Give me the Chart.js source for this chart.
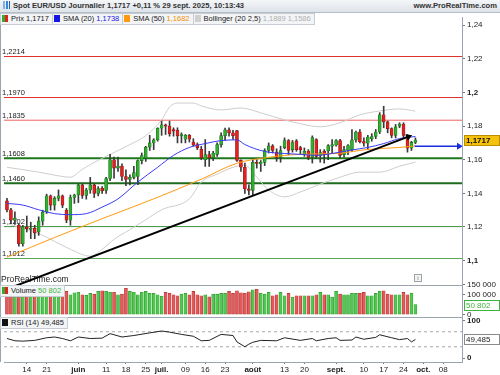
<!DOCTYPE html>
<html lang="fr">
<head>
<meta charset="utf-8">
<title>Spot EUR/USD Journalier</title>
<script src="https://cdn.jsdelivr.net/npm/chart.js@4.4.1/dist/chart.umd.min.js"></script>
<style>
  html, body { margin: 0; padding: 0; }
  body { width: 500px; height: 375px; overflow: hidden; position: relative; background: #fff;
         font-family: "Liberation Sans", Arial, sans-serif; color: #222; }
  #hdr { position: absolute; left: 0; top: 0; width: 500px; height: 12px; line-height: 12px;
         background: linear-gradient(#f4f6f8, #dde3e9); border-bottom: 1px solid #b5bec7;
         font-size: 7.6px; font-weight: bold; color: #333; white-space: nowrap; z-index: 3; }
  #hdr .ico { display: inline-block; width: 7px; height: 8px; margin: 0 3px 0 3px; vertical-align: -1px;
         background: linear-gradient(90deg, #7ab4e8 0 2px, transparent 2px 3px, #3d86d4 3px 5px, transparent 5px 6px, #1f63b8 6px 7px); }
  #hdr .site { position: absolute; right: 3px; top: 0; }
  #leg, .pane { position: absolute; left: 0; height: 12px; white-space: nowrap; font-size: 7.5px; z-index: 2; }
  #leg { top: 13px; }
  .box { display: inline-block; height: 10px; line-height: 10px; padding: 0 3px 0 1px; background: #f2f4f6;
         border: 1px solid #c6ccd2; margin-right: -1px; vertical-align: top; color: #222; }
  .sw { display: inline-block; width: 6px; height: 7px; margin-right: 3px; vertical-align: -1px; }
  #info { position: absolute; left: 414px; top: 274px; width: 6px; height: 6px; border: 1px solid #9aa3ab;
          font-size: 6px; line-height: 6px; text-align: center; color: #666; background: #f4f4f4; }
  canvas { position: absolute; left: 0; top: 13px; }
</style>
</head>
<body>
<div id="hdr"><span class="ico"></span>Spot EUR/USD Journalier 1,1717 +0,11 % 29 sept. 2025, 10:13:43<span class="site">www.ProRealTime.com</span></div>
<div id="leg"><span class="box"><i class="sw" style="background:linear-gradient(90deg,#2fae2f 50%,#e02222 50%)"></i>Prix 1,1717</span><span class="box"><i class="sw" style="background:#1515e6"></i>SMA (20) <span style="color:#2020e0">1,1738</span></span><span class="box"><i class="sw" style="background:#ff9a10"></i>SMA (50) <span style="color:#f39000">1,1682</span></span><span class="box"><i class="sw" style="background:#cfcfcf"></i>Bollinger (20 2,5) <span style="color:#b0b0b0">1,1889 1,1586</span></span></div>
<div class="pane" style="top:285px"><span class="box"><i class="sw" style="background:linear-gradient(90deg,#2fae2f 50%,#e02222 50%)"></i>Volume <span style="color:#3cb43c">50 802</span></span></div>
<div class="pane" style="top:317px"><span class="box"><i class="sw" style="background:#111"></i>RSI (14) 49,485</span></div>
<div id="info">i</div>
<canvas id="c" width="500" height="362"></canvas>
<script>
// Bougies journalières du 7 mai au 29 sept. 2025 (index 0 = 7 mai)
const opens = [
  1.1355,1.1302,1.1240,1.1210,1.1100,1.1200,1.1185,1.1192,1.1170,1.1235,
  1.1290,1.1385,1.1330,1.1370,1.1385,1.1300,1.1240,1.1375,1.1390,1.1450,
  1.1388,1.1420,1.1450,1.1400,1.1430,1.1418,1.1488,1.1600,1.1550,1.1562,
  1.1500,1.1482,1.1495,1.1500,1.1595,1.1610,1.1675,1.1700,1.1718,1.1787,
  1.1808,1.1800,1.1780,1.1775,1.1742,1.1722,1.1745,1.1705,1.1690,1.1662,
  1.1600,1.1630,1.1612,1.1632,1.1690,1.1743,1.1778,1.1760,1.1773,1.1596,
  1.1555,1.1426,1.1418,1.1585,1.1575,1.1584,1.1655,1.1682,1.1645,1.1614,
  1.1672,1.1714,1.1660,1.1712,1.1672,1.1632,1.1652,1.1614,1.1720,1.1625,
  1.1650,1.1652,1.1680,1.1686,1.1714,1.1630,1.1655,1.1660,1.1718,1.1765,
  1.1708,1.1698,1.1725,1.1738,1.1765,1.1867,1.1825,1.1785,1.1745,1.1800,
  1.1812,1.1745,1.1668,1.1703
];
const highs = [
  1.1370,1.1310,1.1290,1.1220,1.1210,1.1265,1.1228,1.1210,1.1260,1.1300,
  1.1395,1.1390,1.1380,1.1420,1.1390,1.1310,1.1390,1.1395,1.1455,1.1455,
  1.1430,1.1495,1.1455,1.1440,1.1440,1.1495,1.1632,1.1615,1.1615,1.1575,
  1.1540,1.1510,1.1560,1.1600,1.1640,1.1680,1.1745,1.1725,1.1790,1.1830,
  1.1812,1.1830,1.1790,1.1790,1.1760,1.1750,1.1750,1.1725,1.1700,1.1680,
  1.1720,1.1650,1.1650,1.1700,1.1760,1.1788,1.1790,1.1775,1.1775,1.1600,
  1.1580,1.1450,1.1600,1.1600,1.1595,1.1665,1.1700,1.1690,1.1665,1.1680,
  1.1730,1.1720,1.1715,1.1720,1.1680,1.1670,1.1660,1.1742,1.1725,1.1660,
  1.1660,1.1690,1.1720,1.1720,1.1722,1.1680,1.1690,1.1780,1.1770,1.1780,
  1.1730,1.1745,1.1755,1.1780,1.1880,1.1918,1.1830,1.1790,1.1810,1.1820,
  1.1820,1.1750,1.1710,1.1730
];
const lows = [
  1.1290,1.1220,1.1215,1.1085,1.1085,1.1170,1.1130,1.1130,1.1150,1.1210,
  1.1280,1.1300,1.1300,1.1355,1.1315,1.1225,1.1210,1.1340,1.1345,1.1370,
  1.1365,1.1400,1.1375,1.1385,1.1400,1.1400,1.1475,1.1490,1.1530,1.1475,
  1.1445,1.1450,1.1485,1.1452,1.1575,1.1590,1.1655,1.1660,1.1710,1.1745,
  1.1750,1.1740,1.1740,1.1700,1.1700,1.1700,1.1705,1.1680,1.1660,1.1600,
  1.1560,1.1560,1.1595,1.1620,1.1675,1.1715,1.1740,1.1720,1.1590,1.1530,
  1.1400,1.1390,1.1390,1.1550,1.1530,1.1565,1.1640,1.1640,1.1590,1.1585,
  1.1665,1.1630,1.1645,1.1650,1.1630,1.1620,1.1600,1.1580,1.1610,1.1585,
  1.1580,1.1600,1.1640,1.1680,1.1610,1.1615,1.1630,1.1650,1.1705,1.1700,
  1.1680,1.1660,1.1710,1.1725,1.1755,1.1790,1.1760,1.1730,1.1730,1.1790,
  1.1730,1.1645,1.1655,1.1695
];
const closes = [
  1.1302,1.1240,1.1252,1.1100,1.1200,1.1190,1.1192,1.1165,1.1235,1.1288,
  1.1385,1.1330,1.1370,1.1385,1.1330,1.1240,1.1375,1.1390,1.1450,1.1388,
  1.1420,1.1450,1.1400,1.1428,1.1415,1.1488,1.1600,1.1550,1.1562,1.1500,
  1.1482,1.1495,1.1523,1.1595,1.1625,1.1675,1.1700,1.1718,1.1787,1.1808,
  1.1800,1.1755,1.1770,1.1742,1.1750,1.1745,1.1722,1.1688,1.1672,1.1612,
  1.1630,1.1612,1.1640,1.1690,1.1743,1.1778,1.1760,1.1743,1.1596,1.1555,
  1.1426,1.1418,1.1585,1.1578,1.1585,1.1655,1.1682,1.1655,1.1614,1.1655,
  1.1714,1.1655,1.1702,1.1660,1.1660,1.1650,1.1614,1.1732,1.1620,1.1643,
  1.1630,1.1684,1.1690,1.1714,1.1626,1.1660,1.1684,1.1718,1.1765,1.1708,
  1.1698,1.1735,1.1738,1.1765,1.1867,1.1825,1.1785,1.1745,1.1795,1.1812,
  1.1745,1.1668,1.1703,1.1717
];
const volumes = [
  100000,100000,103000,100000,100000,103000,100000,100000,103000,107000,
  90000,100000,107000,117000,100000,117000,100000,110000,113000,100000,
  97000,107000,103000,117000,120000,117000,113000,113000,100000,103000,
  133000,117000,113000,100000,113000,117000,107000,107000,100000,93000,
  112000,107000,100000,95000,103000,107000,100000,117000,100000,95000,
  100000,90000,103000,103000,107000,107000,117000,107000,120000,110000,
  108000,115000,125000,128000,108000,103000,112000,95000,100000,112000,
  95000,107000,87000,95000,95000,95000,95000,95000,100000,112000,
  100000,100000,87000,117000,103000,100000,100000,107000,107000,107000,
  112000,95000,95000,107000,117000,120000,103000,100000,100000,100000,
  112000,100000,108000,50802
];

// Moyennes et bandes (index de séance, valeur)
const sma20Idx = [0,4,8,12,16,20,24,28,33,38,42,46,50,54,58,60,65,70,74,78,82,87,91,95,99,103];
const sma20 = [1.1340,1.1330,1.1302,1.1279,1.1273,1.1279,1.1318,1.1367,1.1467,1.1555,1.1626,1.1673,1.1696,
               1.1714,1.1718,1.1690,1.1649,1.1637,1.1632,1.1626,1.1637,1.1658,1.1673,1.1696,1.1726,1.1738];
const sma50Idx = [0,12,24,37,49,58,66,74,83,91,99,103];
const sma50 = [1.1020,1.1137,1.1249,1.1367,1.1484,1.1579,1.1614,1.1632,1.1637,1.1661,1.1673,1.1682];
const bbUpIdx = [0,8,12,16,19,23,27,31,35,39,41,43,47,49,54,59,64,70,74,79,84,89,94,99,103];
const bbUpper = [1.1555,1.1526,1.1508,1.1496,1.1543,1.1596,1.1643,1.1690,1.1743,1.1837,1.1914,1.1937,1.1937,
                 1.1920,1.1896,1.1908,1.1879,1.1837,1.1814,1.1796,1.1820,1.1867,1.1890,1.1902,1.1889];
const bbLowIdx = [0,8,12,16,21,24,27,31,35,39,46,49,53,57,60,63,66,70,74,79,84,89,94,99,103];
const bbLower = [1.1220,1.1161,1.1114,1.1067,1.1026,1.1067,1.1126,1.1184,1.1243,1.1302,1.1367,1.1467,1.1514,
                 1.1555,1.1567,1.1496,1.1420,1.1379,1.1408,1.1455,1.1496,1.1526,1.1526,1.1561,1.1586];

const rsiIdx = [0,2,4,7,10,12,14,16,18,21,24,26,29,32,36,39,41,44,47,49,51,54,57,58,60,61,62,64,68,70,
                74,77,78,81,83,84,87,88,90,93,94,97,99,101,102,103];
const rsiVals = [52,46,45,47,54,56,52,46,56,52,53,65,56,60,67,72,69,63,58,46,47,63,60,43,30,37,42,47,46,54,
                 47,52,46,52,54,47,48,56,50,55,62,54,49,52,43,49.485];
const rsiLevels = [70, 30];

// Niveaux horizontaux tracés
const levelValues = [1.2214, 1.1970, 1.1835, 1.1608, 1.1460, 1.1202, 1.1012];
const levelColors = ['#e0302c', '#e0302c', '#ee6461', '#1d781d', '#1d6c1d', '#3a943a', '#5aa65a'];
const levelWidths = [1, 1, 1, 2, 2, 1, 1];

// Ligne de tendance et flèche
const trendIdx = [2, 101.25];
const trendPrice = [1.0848, 1.1737];
const arrowIdx = [102.8, 114];
const arrowPrice = [1.1680, 1.1680];

// Axe des dates
const tickIdx = [5,10,18,25,30,35,39,45,50,55,62,70,75,83,90,95,100,105,110];
const tickLabels = ['14','21','juin','11','18','25','juil.','09','16','23','août','13','20','sept.','10','17','24','oct.','08'];
const priceTicks = [1.10,1.12,1.14,1.16,1.18,1.20,1.22,1.24];
const volTicks = [0, 100000, 150000];
const rsiTicks = [0, 100];

const FONT = '"Liberation Sans", Arial, sans-serif';
const GREEN = '#2fae2f';
const RED = '#e02222';
const up = closes.map((c, i) => c >= opens[i]);
const last = closes.length - 1;
const pts = (xs, ys) => xs.map((x, i) => ({ x, y: ys[i] }));
const comma = (s) => s.replace('.', ',');

const fixWidth = (w) => (s) => { s.width = w; s.paddingTop = 0; s.paddingBottom = 0; };
const setTicks = (vals) => (s) => { s.ticks = vals.map(v => ({ value: v })); };

const overlay = {
  id: 'overlay',
  beforeDatasetsDraw(chart) {
    const { ctx, scales: { y } } = chart;
    ctx.save();
    ctx.fillStyle = '#222';
    ctx.textBaseline = 'bottom';
    ctx.font = '7.5px ' + FONT;
    levelValues.forEach(v => ctx.fillText(comma(v.toFixed(4)), 2, y.getPixelForValue(v) - 1));
    ctx.font = '8.5px ' + FONT;
    ctx.fillText('ProRealTime.com', 1, y.bottom - 1);
    ctx.restore();
  },
  afterDraw(chart) {
    const { ctx, chartArea, scales: { y, yVol, yRsi } } = chart;
    ctx.save();
    ctx.strokeStyle = '#9aa5b0';
    ctx.lineWidth = 1;
    ctx.beginPath();
    [yVol.top, yRsi.top].forEach(t => { ctx.moveTo(0, Math.round(t) + 0.5); ctx.lineTo(chartArea.right, Math.round(t) + 0.5); });
    ctx.moveTo(0.5, chartArea.top); ctx.lineTo(0.5, chartArea.bottom);
    ctx.stroke();

    const tag = (py, text, fill, stroke, color, bold) => {
      const yy = Math.round(py);
      ctx.fillStyle = fill;
      ctx.fillRect(chartArea.right + 2, yy - 5, 36, 11);
      ctx.strokeStyle = stroke;
      ctx.strokeRect(chartArea.right + 2.5, yy - 4.5, 35, 10);
      ctx.fillStyle = color;
      ctx.font = (bold ? 'bold ' : '') + '8px ' + FONT;
      ctx.textBaseline = 'middle';
      ctx.fillText(text, chartArea.right + 4, yy + 0.5);
    };
    tag(y.getPixelForValue(closes[last]), comma(closes[last].toFixed(4)), '#f4c20d', '#b98f00', '#111', true);
    tag(yVol.getPixelForValue(volumes[last]), '50 802', '#fff', '#3cb43c', '#3cb43c', false);
    tag(yRsi.getPixelForValue(rsiVals[rsiVals.length - 1]), comma(rsiVals[rsiVals.length - 1].toFixed(3)), '#fff', '#8a8a8a', '#222', false);
    ctx.restore();
  }
};

const lineDs = (data, color, axis, order, extra) => Object.assign({
  type: 'line', data, borderColor: color, borderWidth: 1, pointRadius: 0,
  fill: false, yAxisID: axis, order, cubicInterpolationMode: 'monotone'
}, extra || {});

const datasets = [];
levelValues.forEach((v, i) => {
  datasets.push(lineDs([{ x: -0.75, y: v }, { x: 114.75, y: v }], levelColors[i], 'y', 20, { borderWidth: levelWidths[i] }));
});
datasets.push(lineDs(pts(bbUpIdx, bbUpper), '#cdcdcd', 'y', 8));
datasets.push(lineDs(pts(bbLowIdx, bbLower), '#cdcdcd', 'y', 8));
datasets.push({
  type: 'bar', data: lows.map((l, i) => ({ x: i, y: [l, highs[i]] })),
  backgroundColor: '#3a3a3a', barThickness: 1, grouped: false, yAxisID: 'y', order: 6
});
datasets.push({
  type: 'bar', data: opens.map((o, i) => ({ x: i, y: [o, closes[i]] })),
  backgroundColor: up.map(u => u ? GREEN : RED),
  borderColor: up.map(u => u ? '#1b6d1b' : '#8c1212'), borderWidth: 0.6, borderSkipped: false,
  barThickness: 3, minBarLength: 1, grouped: false, yAxisID: 'y', order: 5
});
datasets.push(lineDs(pts(sma50Idx, sma50), '#ff9a10', 'y', 4));
datasets.push(lineDs(pts(sma20Idx, sma20), '#3a3af5', 'y', 3));
datasets.push(lineDs(pts(trendIdx, trendPrice), '#000', 'y', 2, {
  borderWidth: 2, cubicInterpolationMode: 'default', tension: 0,
  pointRadius: [0, 4], pointStyle: 'triangle', pointRotation: 69, pointBackgroundColor: '#000', pointBorderWidth: 0
}));
datasets.push(lineDs(pts(arrowIdx, arrowPrice), '#1a2ee0', 'y', 1, {
  borderWidth: 1.5, pointRadius: [0, 4], pointStyle: 'triangle', pointRotation: 90,
  pointBackgroundColor: '#1a2ee0', pointBorderWidth: 0
}));
datasets.push({
  type: 'bar', data: volumes.map((v, i) => ({ x: i, y: v })),
  backgroundColor: up.map(u => u ? '#52c852' : '#e25a5a'),
  borderColor: up.map(u => u ? '#2e9a2e' : '#b83030'), borderWidth: 0.6, borderSkipped: false,
  barThickness: 3, grouped: false, yAxisID: 'yVol', order: 5
});
rsiLevels.forEach(v => {
  datasets.push(lineDs([{ x: -0.75, y: v }, { x: 114.75, y: v }], '#a8a8a8', 'yRsi', 9, { borderDash: [3, 3] }));
});
datasets.push(lineDs(pts(rsiIdx, rsiVals), '#222', 'yRsi', 2, { tension: 0, cubicInterpolationMode: 'default' }));

const rightAxis = (extra) => Object.assign({
  type: 'linear', position: 'right', stack: 'panes', offset: false,
  border: { color: '#9aa5b0' },
  grid: { drawOnChartArea: false, tickLength: 3, color: '#777' },
  afterFit: fixWidth(38)
}, extra);

new Chart(document.getElementById('c'), {
  type: 'line',
  data: { datasets },
  options: {
    responsive: false, animation: false, events: [],
    layout: { padding: 0 },
    plugins: { legend: { display: false }, tooltip: { enabled: false } },
    scales: {
      x: {
        type: 'linear', min: -0.75, max: 114.75, offset: false,
        border: { color: '#9aa5b0' },
        grid: { drawOnChartArea: false, tickLength: 2, color: '#777', offset: false },
        afterBuildTicks: setTicks(tickIdx),
        afterFit: (s) => { s.height = 13; s.paddingLeft = 0; s.paddingRight = 0; },
        ticks: {
          autoSkip: false, maxRotation: 0, padding: 1, color: '#222',
          callback: (v, i) => tickLabels[i],
          font: (c) => ({ family: FONT, size: 8, weight: c.tick && isNaN(parseInt(tickLabels[tickIdx.indexOf(c.tick.value)])) ? 'bold' : 'normal' })
        }
      },
      y: rightAxis({
        min: 1.08551, max: 1.24492, stackWeight: 271, weight: 1,
        afterBuildTicks: setTicks(priceTicks),
        ticks: {
          autoSkip: false, padding: 2, color: '#222',
          callback: (v) => comma(String(parseFloat(v.toFixed(2)))),
          font: (c) => ({ family: FONT, size: 8, weight: c.tick && Math.abs(c.tick.value * 10 - Math.round(c.tick.value * 10)) < 1e-6 ? 'bold' : 'normal' })
        }
      }),
      yVol: rightAxis({
        min: -10000, max: 150000, stackWeight: 32, weight: 2,
        afterBuildTicks: setTicks(volTicks),
        ticks: {
          autoSkip: false, padding: 2, color: '#222', font: { family: FONT, size: 8 },
          callback: (v) => v === 0 ? '0' : (v / 1000) + ' 000'
        }
      }),
      yRsi: rightAxis({
        min: -10.53, max: 110.53, stackWeight: 46, weight: 3,
        afterBuildTicks: setTicks(rsiTicks),
        ticks: { autoSkip: false, padding: 2, color: '#222', font: { family: FONT, size: 8, weight: 'bold' } }
      })
    }
  },
  plugins: [overlay]
});
</script>
</body>
</html>
